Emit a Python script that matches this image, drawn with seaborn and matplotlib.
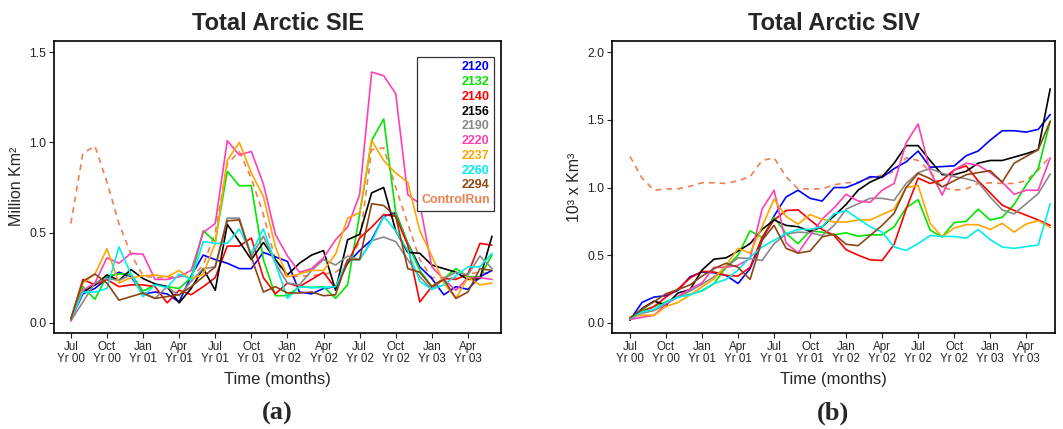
import numpy as np
import pandas as pd
import matplotlib
matplotlib.use("Agg")
import matplotlib.pyplot as plt
import seaborn as sns
from matplotlib.lines import Line2D

months = list(range(36))
tick_pos = list(range(0, 36, 3))
tick_labels = ["Jul\nYr 00", "Oct\nYr 00", "Jan\nYr 01", "Apr\nYr 01", "Jul\nYr 01", "Oct\nYr 01",
               "Jan\nYr 02", "Apr\nYr 02", "Jul\nYr 02", "Oct\nYr 02", "Jan\nYr 03", "Apr\nYr 03"]
runs = ["2120", "2132", "2140", "2156", "2190", "2220", "2237", "2260", "2294", "ControlRun"]
colors = ["#0000FF", "#00E600", "#FF0000", "#000000", "#888888", "#FF3FB4", "#FFA500", "#00EEEE", "#8B4513", "#EE7F4F"]

# Total Arctic SIE (Million Km^2)
sie_2120 = [0.02,0.16,0.19,0.245,0.28,0.255,0.16,0.17,0.16,0.115,0.26,0.375,0.35,0.33,0.30,0.30,0.39,0.365,0.34,0.17,0.16,0.19,0.20,0.33,0.40,0.46,0.59,0.61,0.44,0.31,0.245,0.155,0.20,0.185,0.255,0.29]
sie_2132 = [0.02,0.20,0.13,0.26,0.27,0.27,0.175,0.21,0.20,0.19,0.25,0.51,0.45,0.84,0.76,0.76,0.35,0.15,0.15,0.20,0.195,0.20,0.135,0.21,0.60,1.01,1.13,0.61,0.44,0.29,0.20,0.245,0.30,0.255,0.255,0.375]
sie_2140 = [0.02,0.24,0.21,0.24,0.20,0.21,0.21,0.20,0.11,0.18,0.155,0.20,0.25,0.425,0.425,0.47,0.25,0.16,0.22,0.20,0.24,0.28,0.19,0.33,0.47,0.53,0.60,0.59,0.43,0.115,0.20,0.245,0.24,0.27,0.44,0.43]
sie_2156 = [0.02,0.17,0.21,0.265,0.235,0.295,0.245,0.215,0.20,0.11,0.19,0.30,0.18,0.545,0.45,0.35,0.445,0.35,0.265,0.33,0.375,0.40,0.18,0.46,0.49,0.72,0.75,0.51,0.39,0.385,0.32,0.30,0.28,0.24,0.245,0.48]
sie_2190 = [0.01,0.115,0.22,0.245,0.235,0.265,0.16,0.135,0.20,0.15,0.23,0.30,0.31,0.58,0.58,0.37,0.48,0.33,0.22,0.21,0.29,0.35,0.32,0.37,0.35,0.455,0.475,0.45,0.35,0.255,0.185,0.245,0.28,0.265,0.37,0.30]
sie_2220 = [0.01,0.18,0.22,0.36,0.33,0.385,0.38,0.24,0.24,0.255,0.29,0.50,0.55,1.01,0.93,0.95,0.77,0.49,0.37,0.28,0.30,0.36,0.46,0.53,0.71,1.39,1.37,1.27,0.71,0.66,0.31,0.24,0.18,0.25,0.25,0.24]
sie_2237 = [0.02,0.22,0.27,0.41,0.22,0.25,0.26,0.265,0.255,0.29,0.24,0.27,0.44,0.90,1.00,0.83,0.70,0.42,0.255,0.27,0.29,0.29,0.38,0.58,0.61,1.01,0.90,0.83,0.78,0.51,0.37,0.22,0.135,0.25,0.21,0.22]
sie_2260 = [0.02,0.17,0.17,0.19,0.42,0.27,0.145,0.21,0.195,0.27,0.24,0.45,0.44,0.44,0.52,0.385,0.52,0.33,0.135,0.20,0.195,0.195,0.20,0.35,0.35,0.45,0.59,0.51,0.40,0.23,0.185,0.21,0.26,0.31,0.31,0.385]
sie_2294 = [0.02,0.23,0.27,0.22,0.125,0.145,0.165,0.135,0.145,0.155,0.20,0.255,0.31,0.565,0.57,0.365,0.17,0.20,0.165,0.165,0.17,0.15,0.155,0.35,0.35,0.66,0.65,0.59,0.30,0.28,0.20,0.24,0.135,0.17,0.30,0.29]
sie_ctrl = [0.55,0.94,0.98,0.78,0.55,0.38,0.26,0.25,0.25,0.26,0.25,0.32,0.50,0.88,0.95,0.80,0.60,0.35,0.25,0.26,0.26,0.27,0.28,0.33,0.45,0.96,0.97,0.75,0.55,0.35,0.25,0.25,0.25,0.27,0.28,0.27]

# Total Arctic SIV (10^3 x Km^3)
siv_2120 = [0.02,0.15,0.19,0.20,0.24,0.34,0.375,0.37,0.35,0.29,0.40,0.61,0.79,0.93,0.98,0.92,0.90,1.0,1.0,1.035,1.08,1.075,1.14,1.19,1.27,1.15,1.155,1.16,1.235,1.27,1.35,1.42,1.42,1.41,1.43,1.54]
siv_2132 = [0.03,0.09,0.12,0.155,0.19,0.21,0.235,0.29,0.41,0.50,0.68,0.63,0.78,0.66,0.585,0.68,0.67,0.65,0.665,0.64,0.65,0.65,0.71,0.85,0.91,0.685,0.635,0.74,0.75,0.84,0.76,0.78,0.875,1.02,1.14,1.49]
siv_2140 = [0.03,0.08,0.12,0.19,0.25,0.33,0.38,0.375,0.35,0.345,0.41,0.63,0.76,0.83,0.835,0.76,0.69,0.645,0.54,0.50,0.465,0.46,0.58,0.84,1.07,1.03,1.055,1.13,1.16,1.05,0.96,0.87,0.83,0.795,0.76,0.72]
siv_2156 = [0.02,0.105,0.16,0.13,0.22,0.245,0.39,0.47,0.48,0.53,0.585,0.69,0.76,0.72,0.71,0.675,0.71,0.79,0.875,0.98,1.04,1.08,1.18,1.31,1.31,1.20,1.095,1.095,1.12,1.18,1.2,1.2,1.225,1.25,1.28,1.73]
siv_2190 = [0.025,0.07,0.09,0.14,0.19,0.235,0.285,0.34,0.41,0.48,0.475,0.46,0.585,0.655,0.67,0.665,0.645,0.72,0.84,0.88,0.92,0.92,0.905,1.03,1.11,1.14,1.105,1.08,1.065,1.04,0.93,0.835,0.805,0.88,0.955,1.10]
siv_2220 = [0.025,0.04,0.055,0.14,0.195,0.25,0.295,0.41,0.41,0.425,0.475,0.84,0.98,0.59,0.515,0.645,0.765,0.85,0.95,0.90,0.89,0.98,1.03,1.33,1.47,1.12,0.945,1.13,1.18,1.165,1.11,1.04,0.95,0.98,0.98,1.22]
siv_2237 = [0.045,0.055,0.055,0.12,0.15,0.205,0.265,0.325,0.425,0.55,0.515,0.71,0.915,0.785,0.73,0.80,0.765,0.745,0.745,0.76,0.76,0.80,0.84,1.0,1.015,0.735,0.635,0.70,0.725,0.725,0.69,0.735,0.67,0.73,0.755,0.705]
siv_2260 = [0.03,0.08,0.10,0.15,0.19,0.205,0.24,0.29,0.32,0.39,0.485,0.56,0.61,0.66,0.69,0.69,0.71,0.805,0.83,0.77,0.71,0.67,0.56,0.535,0.585,0.645,0.638,0.638,0.625,0.69,0.615,0.56,0.55,0.563,0.575,0.88]
siv_2294 = [0.035,0.10,0.155,0.215,0.245,0.28,0.345,0.40,0.44,0.41,0.32,0.61,0.72,0.55,0.515,0.53,0.635,0.655,0.58,0.57,0.645,0.72,0.81,1.0,1.105,1.065,1.005,1.05,1.095,1.11,1.125,1.04,1.18,1.23,1.28,1.49]
siv_ctrl = [1.23,1.07,0.98,0.99,0.99,1.01,1.035,1.035,1.03,1.05,1.08,1.20,1.22,1.08,0.99,0.99,0.99,1.02,1.035,1.04,1.07,1.09,1.12,1.22,1.20,1.12,1.0,0.98,0.99,1.03,1.035,1.03,1.03,1.05,1.13,1.23]

sie_series = [sie_2120, sie_2132, sie_2140, sie_2156, sie_2190, sie_2220, sie_2237, sie_2260, sie_2294, sie_ctrl]
siv_series = [siv_2120, siv_2132, siv_2140, siv_2156, siv_2190, siv_2220, siv_2237, siv_2260, siv_2294, siv_ctrl]


def long_df(series):
    rows = []
    for run, vals in zip(runs, series):
        for m, v in zip(months, vals):
            rows.append((run, m, v))
    return pd.DataFrame(rows, columns=["run", "month", "value"])


sns.set_theme(style="white")
plt.rcParams["font.family"] = ["Liberation Sans", "DejaVu Sans"]

fig = plt.figure(figsize=(10.63, 4.29), dpi=100)
axL = fig.add_axes([54 / 1063, 1 - 333 / 429, (501 - 54) / 1063, (333 - 40.7) / 429])
axR = fig.add_axes([612 / 1063, 1 - 333 / 429, (1055 - 612) / 1063, (333 - 40.7) / 429])

palette = dict(zip(runs, colors))
dashes = {r: "" for r in runs}
dashes["ControlRun"] = (3.5, 3)
order = ["ControlRun"] + runs[:-1]

for ax, series, title, ylab, ylim, yticks in [
    (axL, sie_series, "Total Arctic SIE", "Million Km\u00b2", (-0.057, 1.564), [0.0, 0.5, 1.0, 1.5]),
    (axR, siv_series, "Total Arctic SIV", "10\u00b3 x Km\u00b3", (-0.076, 2.086), [0.0, 0.5, 1.0, 1.5, 2.0]),
]:
    df = long_df(series)
    sns.lineplot(data=df, x="month", y="value", hue="run", hue_order=order, palette=palette,
                 style="run", style_order=order, dashes=dashes, linewidth=1.2, legend=False, ax=ax)
    ax.set_xlim(-1.4, 35.75)
    ax.set_ylim(*ylim)
    ax.set_xticks(tick_pos)
    ax.set_xticklabels(tick_labels, fontsize=8.4, linespacing=1.0)
    ax.set_yticks(yticks)
    ax.set_yticklabels([f"{t:.1f}" for t in yticks], fontsize=8.8, color="#222222")
    ax.tick_params(axis="both", direction="out", length=3.5, width=0.8, color="#222222", pad=2,
                   bottom=True, left=True)
    ax.set_xlabel("Time (months)", fontsize=12, labelpad=5)
    ax.set_ylabel(ylab, fontsize=11.5, labelpad=4)
    ax.set_title(title, fontsize=17, fontweight="bold", pad=8)
    for sp in ax.spines.values():
        sp.set_visible(True)
        sp.set_color("black")
        sp.set_linewidth(1.2)

axR.set_xlim(-1.5, 35.4)

# legend on left panel: coloured bold labels only
handles = [Line2D([], [], linestyle="none") for _ in runs]
leg = axL.legend(handles, runs, loc="upper right", bbox_to_anchor=((494 - 54) / 447, (333 - 57) / 292.3),
                 borderaxespad=0, markerfirst=False,
                 handlelength=0, handletextpad=0, labelspacing=0.22, borderpad=0.35,
                 fancybox=False, framealpha=1, edgecolor="#333333",
                 prop={"weight": "bold", "size": 9})
leg.get_frame().set_linewidth(0.9)
for txt, c in zip(leg.get_texts(), colors):
    txt.set_color(c)

fig.text(277 / 1063, 1 - 413 / 429, "(a)", ha="center", va="center", fontsize=19,
         fontweight="bold", family=["Liberation Serif", "DejaVu Serif"])
fig.text(833 / 1063, 1 - 413 / 429, "(b)", ha="center", va="center", fontsize=19,
         fontweight="bold", family=["Liberation Serif", "DejaVu Serif"])

fig.savefig("out.png", dpi=100)
